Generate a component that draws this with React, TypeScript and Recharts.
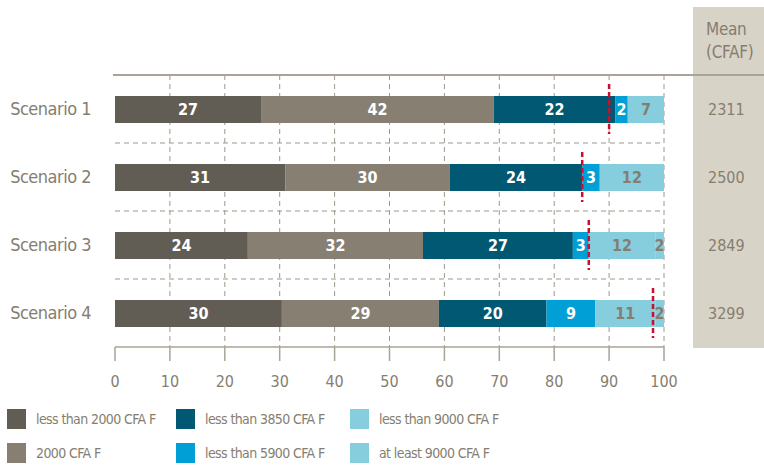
import {
  ComposedChart,
  Bar,
  Scatter,
  XAxis,
  YAxis,
  CartesianGrid,
  LabelList,
} from "recharts";

const scenarios = ["Scenario 1", "Scenario 2", "Scenario 3", "Scenario 4"];

// shares of each price band (%)
const lessThan2000 = [26.6, 31.0, 24.2, 30.4];
const exactly2000 = [42.4, 30.0, 31.9, 28.6];
const lessThan3850 = [22.1, 24.1, 27.3, 19.6];
const lessThan5900 = [2.3, 3.2, 2.9, 8.9];
const lessThan9000 = [6.6, 11.7, 12.1, 10.9];
const atLeast9000 = [0, 0, 1.6, 1.6];

// red dashed markers
const markers = [90.0, 85.1, 86.3, 98.0];
// mean column
const means = ["2311", "2500", "2849", "3299"];

const xTicks = [0, 10, 20, 30, 40, 50, 60, 70, 80, 90, 100];

const SERIES = [
  { key: "lt2000", label: "less than 2000 CFA F", color: "#625d54", text: "#ffffff", values: lessThan2000 },
  { key: "eq2000", label: "2000 CFA F", color: "#878072", text: "#ffffff", values: exactly2000 },
  { key: "lt3850", label: "less than 3850 CFA F", color: "#005873", text: "#ffffff", values: lessThan3850 },
  { key: "lt5900", label: "less than 5900 CFA F", color: "#009fd6", text: "#ffffff", values: lessThan5900 },
  { key: "lt9000", label: "less than 9000 CFA F", color: "#86cedd", text: "#857e70", values: lessThan9000 },
  { key: "ge9000", label: "at least 9000 CFA F", color: "#86cedd", text: "#857e70", values: atLeast9000 },
];

const data = scenarios.map((name, i) => {
  const row: Record<string, string | number> = { name, marker: markers[i] };
  SERIES.forEach((s) => {
    row[s.key] = s.values[i];
  });
  return row;
});

const FONT = '"DejaVu Sans Condensed", "Liberation Sans Narrow", sans-serif';
const GREY_TEXT = "#857e70";
const LINE = "#aaa396";

function MarkerShape(props: any) {
  const { cx, cy } = props;
  if (cx == null || cy == null) return null;
  return (
    <line
      x1={cx}
      x2={cx}
      y1={cy - 25}
      y2={cy + 25}
      stroke="#c8102e"
      strokeWidth={2.5}
      strokeDasharray="5 3"
    />
  );
}

const W = 764;
const H = 400;

export default function App() {
  return (
    <div
      style={{
        position: "absolute",
        left: 0,
        top: 0,
        width: W,
        height: 465,
        background: "#fff",
        fontFamily: FONT,
        overflow: "hidden",
      }}
    >
      {/* mean column panel */}
      <div
        style={{
          position: "absolute",
          left: 693,
          top: 7,
          width: 71,
          height: 341,
          background: "#d8d3c7",
        }}
      />
      <div
        style={{
          position: "absolute",
          left: 706,
          top: 18,
          color: GREY_TEXT,
          fontSize: 17,
          lineHeight: "23px",
          letterSpacing: -0.3,
        }}
      >
        Mean
        <br />
        (CFAF)
      </div>

      <div style={{ position: "absolute", left: 0, top: 0 }}>
        <ComposedChart
          width={W}
          height={H}
          data={data}
          layout="vertical"
          margin={{ top: 75, right: 0, left: 0, bottom: 0 }}
          barCategoryGap={0}
        >
          <CartesianGrid
            stroke="#9e978a"
            strokeDasharray="5 4"
            verticalCoordinatesGenerator={({ offset }: any) =>
              xTicks.slice(1).map((t) => offset.left + (offset.width * t) / 100)
            }
            horizontalCoordinatesGenerator={({ offset }: any) =>
              [1, 2, 3].map((k) => offset.top + (offset.height * k) / 4)
            }
          />
          <XAxis
            type="number"
            domain={[0, 100]}
            ticks={xTicks}
            interval={0}
            height={53}
            axisLine={{ stroke: LINE, strokeWidth: 1.5 }}
            tickLine={{ stroke: LINE, strokeWidth: 1.5 }}
            tickSize={14}
            tickMargin={15}
            tick={{ fill: GREY_TEXT, fontSize: 16, fontFamily: FONT }}
          />
          <YAxis
            type="category"
            dataKey="name"
            width={115}
            axisLine={false}
            tickLine={false}
            tickSize={0}
            tickMargin={24}
            tick={{ fill: GREY_TEXT, fontSize: 18, fontFamily: FONT, letterSpacing: -0.5 }}
          />
          <YAxis
            yAxisId="mean"
            orientation="right"
            type="category"
            dataKey="name"
            width={100}
            axisLine={false}
            tickLine={false}
            tickSize={0}
            tickMargin={44}
            tickFormatter={(_v: string, i: number) => means[i]}
            tick={{ fill: GREY_TEXT, fontSize: 16, fontFamily: FONT }}
          />
          {SERIES.map((s) => (
            <Bar
              key={s.key}
              dataKey={s.key}
              stackId="a"
              fill={s.color}
              barSize={27}
              isAnimationActive={false}
            >
              <LabelList
                dataKey={s.key}
                position="center"
                fill={s.text}
                fontSize={16}
                fontWeight="bold"
                fontFamily={FONT}
                formatter={(v: any) => (Number(v) > 0 ? String(Math.round(Number(v))) : "")}
              />
            </Bar>
          ))}
          <Scatter dataKey="marker" shape={MarkerShape} isAnimationActive={false} />
        </ComposedChart>
      </div>

      {/* top rule across the plot and the mean column */}
      <div
        style={{
          position: "absolute",
          left: 113,
          top: 74,
          width: W - 113,
          height: 2,
          background: LINE,
        }}
      />

      {/* legend */}
      {SERIES.map((s, i) => {
        const col = Math.floor(i / 2);
        const row = i % 2;
        const left = [7, 176, 350][col];
        const top = 409 + row * 34;
        return (
          <div key={s.key} style={{ position: "absolute", left, top, height: 20, display: "flex", alignItems: "center" }}>
            <div style={{ width: 19, height: 20, background: s.color }} />
            <span
              style={{
                marginLeft: 10,
                color: GREY_TEXT,
                fontSize: 14,
                letterSpacing: -0.6,
                whiteSpace: "nowrap",
              }}
            >
              {s.label}
            </span>
          </div>
        );
      })}
    </div>
  );
}
